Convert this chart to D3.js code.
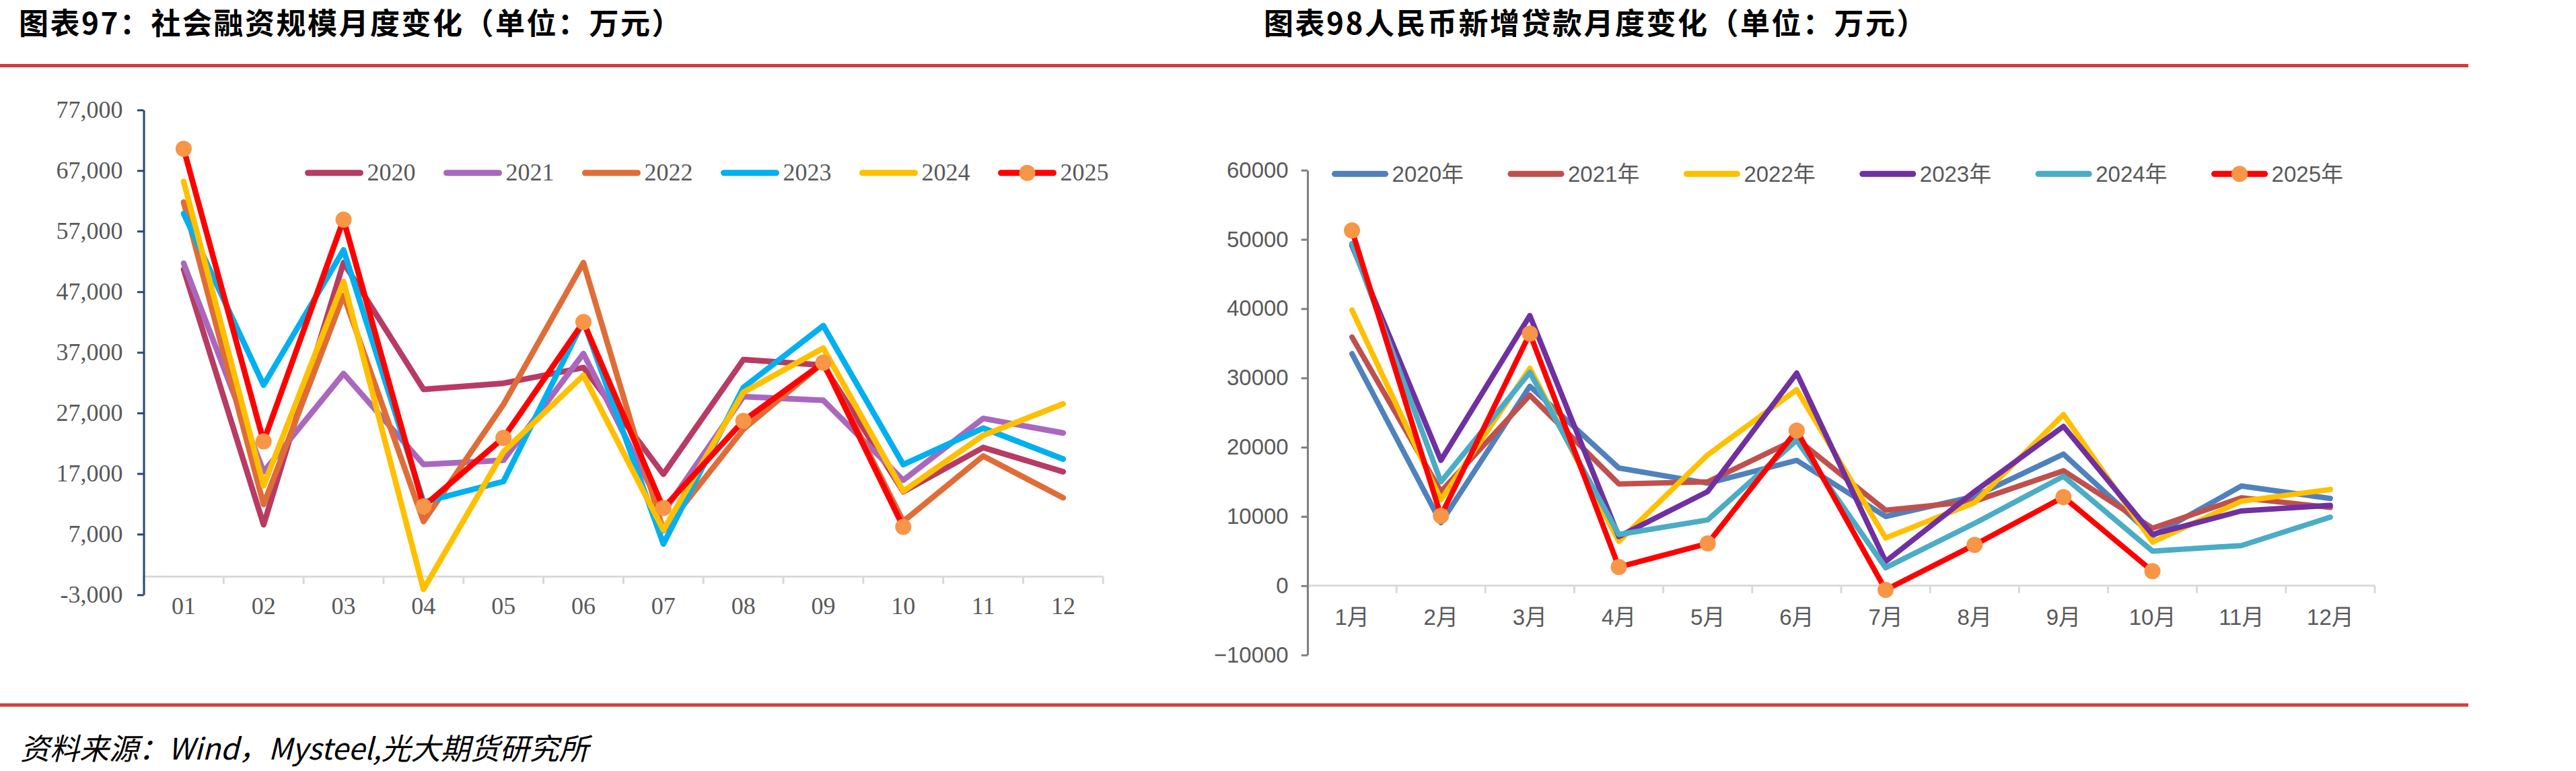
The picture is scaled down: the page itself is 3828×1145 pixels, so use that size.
<!DOCTYPE html>
<html>
<head>
<meta charset="utf-8">
<script src="https://cdn.jsdelivr.net/npm/d3@7"></script>
<style>
  body { margin: 0; background: #fff; }
  svg { display: block; }
</style>
</head>
<body>
<script>
// ---- chart 97: 社会融资规模 ----
var monthsA = ["01", "02", "03", "04", "05", "06", "07", "08", "09", "10", "11", "12"];
var tsfYears = ["2020", "2021", "2022", "2023", "2024", "2025"];
var tsf2020 = [50700, 8550, 51800, 30900, 31900, 34500, 16900, 35800, 34900, 14000, 21300, 17300];
var tsf2021 = [51700, 17300, 33500, 18500, 19200, 36800, 10600, 29700, 29100, 15900, 26100, 23700];
var tsf2022 = [61800, 11900, 46400, 9100, 28400, 51800, 7600, 24300, 35300, 9100, 19900, 13000];
var tsf2023 = [59900, 31600, 53900, 12300, 15700, 42200, 5400, 31200, 41400, 18500, 24500, 19400];
var tsf2024 = [65200, 15000, 48700, -2100, 20600, 33200, 7700, 30400, 37700, 14100, 23300, 28500];
var tsf2025 = [70600, 22300, 58900, 11600, 22900, 42000, 11300, 25700, 35300, 8200];
var tsfTicks = [-3000, 7000, 17000, 27000, 37000, 47000, 57000, 67000, 77000];

// ---- chart 98: 人民币新增贷款 ----
var monthsB = ["1月", "2月", "3月", "4月", "5月", "6月", "7月", "8月", "9月", "10月", "11月", "12月"];
var loanYears = ["2020年", "2021年", "2022年", "2023年", "2024年", "2025年"];
var loan2020 = [33500, 9100, 28800, 17000, 14800, 18100, 10000, 12900, 19000, 7200, 14400, 12600];
var loan2021 = [35900, 13600, 27500, 14700, 15000, 21200, 10900, 12200, 16600, 8300, 12700, 11300];
var loan2022 = [39800, 12400, 31400, 6400, 18900, 28300, 6900, 12000, 24700, 6300, 12200, 13900];
var loan2023 = [49100, 18100, 39000, 7100, 13600, 30700, 3500, 13600, 23000, 7400, 10800, 11600];
var loan2024 = [49400, 15000, 30800, 7400, 9500, 21000, 2600, 9000, 15800, 5000, 5800, 9900];
var loan2025 = [51300, 10100, 36400, 2700, 6100, 22400, -600, 5900, 12800, 2100];
var loanTicks = [-10000, 0, 10000, 20000, 30000, 40000, 50000, 60000];

var tsfColors = ["#B83B63", "#A968BD", "#DF6D37", "#00B0F0", "#FFC000", "#FF0000"];
var loanColors = ["#4F81BD", "#C0504D", "#FFC000", "#7030A0", "#4BACC6", "#FF0000"];
var markerColor = "#F79646";

var W = 3828, H = 1145;
var svg = d3.select("body").append("svg")
  .attr("width", W)
  .attr("height", H);

svg.append("rect").attr("width", W).attr("height", H).attr("fill", "#fff");

// titles
var titleFont = "'Noto Sans CJK SC', sans-serif";
svg.append("text")
  .attr("x", 28).attr("y", 51)
  .style("font-family", titleFont).style("font-size", "44px").style("font-weight", "bold")
  .style("letter-spacing", "2.5px")
  .attr("fill", "#000")
  .text("图表97：社会融资规模月度变化（单位：万元）");

svg.append("text")
  .attr("x", 1878).attr("y", 51)
  .style("font-family", titleFont).style("font-size", "44px").style("font-weight", "bold")
  .style("letter-spacing", "2.5px")
  .attr("fill", "#000")
  .text("图表98人民币新增贷款月度变化（单位：万元）");

// red rules
svg.append("rect").attr("x", 0).attr("y", 95).attr("width", 3668).attr("height", 5).attr("fill", "#D73A3E");
svg.append("rect").attr("x", 0).attr("y", 1044.5).attr("width", 3668).attr("height", 5).attr("fill", "#D73A3E");

// source
svg.append("text")
  .attr("x", 30).attr("y", 1109)
  .attr("dominant-baseline", "central")
  .style("font-family", titleFont).style("font-size", "44px").style("font-style", "italic")
  .attr("fill", "#000")
  .text("资料来源：Wind，Mysteel,光大期货研究所");

function drawChart(cfg) {
  var g = svg.append("g");

  var x = d3.scaleBand().domain(cfg.months).range([cfg.x0, cfg.x1]).padding(0);
  var y = d3.scaleLinear().domain(cfg.domain).range([cfg.yBot, cfg.yTop]);
  var cx = function(m) { return x(m) + x.bandwidth() / 2; };

  // x axis line at zero + boundary ticks
  g.append("line")
    .attr("x1", cfg.x0).attr("x2", cfg.x1)
    .attr("y1", y(0)).attr("y2", y(0))
    .attr("stroke", "#D9D9D9").attr("stroke-width", 3);
  var bounds = cfg.months.map(function(m) { return x(m); }).concat([cfg.x1]);
  g.selectAll(".xb").data(bounds).enter().append("line")
    .attr("x1", function(d) { return d; }).attr("x2", function(d) { return d; })
    .attr("y1", y(0)).attr("y2", y(0) + 11)
    .attr("stroke", "#D9D9D9").attr("stroke-width", 3);

  // x labels
  var xAxis = d3.axisBottom(x).tickSize(0).tickSizeOuter(0);
  var gx = g.append("g").attr("transform", "translate(0," + y(0) + ")").call(xAxis);
  gx.select(".domain").remove();
  gx.selectAll("text")
    .attr("y", cfg.xLabelY).attr("dy", null)
    .attr("fill", "#595959")
    .style("font-family", cfg.font).style("font-size", cfg.fontSize + "px");

  // y axis
  var yAxis = d3.axisLeft(y)
    .tickValues(cfg.ticks)
    .tickFormat(cfg.fmt)
    .tickSize(cfg.tickLen)
    .tickSizeOuter(0)
    .tickPadding(cfg.tickPad);
  var gy = g.append("g").attr("transform", "translate(" + cfg.x0 + ",0)").call(yAxis);
  gy.select(".domain").attr("stroke", cfg.axisColor).attr("stroke-width", 3);
  gy.selectAll(".tick line").attr("stroke", cfg.axisColor).attr("stroke-width", 3);
  gy.selectAll("text")
    .attr("fill", "#595959")
    .style("font-family", cfg.font).style("font-size", cfg.fontSize + "px");

  // lines
  var line = d3.line()
    .x(function(d, i) { return cx(cfg.months[i]); })
    .y(function(d) { return y(d); });

  cfg.series.forEach(function(s, k) {
    g.append("path")
      .datum(s.values)
      .attr("d", line)
      .attr("fill", "none")
      .attr("stroke", s.color)
      .attr("stroke-width", cfg.strokeW)
      .attr("stroke-linejoin", "round")
      .attr("stroke-linecap", "round");
    if (s.marker) {
      g.selectAll(".mk" + k).data(s.values).enter().append("circle")
        .attr("cx", function(d, i) { return cx(cfg.months[i]); })
        .attr("cy", function(d) { return y(d); })
        .attr("r", 12)
        .attr("fill", markerColor);
    }
  });

  // legend
  var lg = g.append("g");
  cfg.series.forEach(function(s, i) {
    var lx = cfg.legX + i * cfg.legStep;
    lg.append("line")
      .attr("x1", lx + 4).attr("x2", lx + cfg.legLen - 4)
      .attr("y1", cfg.legY).attr("y2", cfg.legY)
      .attr("stroke", s.color).attr("stroke-width", 9).attr("stroke-linecap", "round");
    if (s.marker) {
      lg.append("circle")
        .attr("cx", lx + cfg.legLen / 2).attr("cy", cfg.legY).attr("r", 12)
        .attr("fill", markerColor);
    }
    lg.append("text")
      .attr("x", lx + cfg.legText).attr("y", cfg.legY)
      .attr("dy", cfg.legDy)
      .attr("fill", "#595959")
      .style("font-family", cfg.font).style("font-size", cfg.fontSize + "px")
      .text(s.name);
  });
}

var tsfValues = [tsf2020, tsf2021, tsf2022, tsf2023, tsf2024, tsf2025];
drawChart({
  months: monthsA,
  series: tsfYears.map(function(n, i) {
    return { name: n, values: tsfValues[i], color: tsfColors[i], marker: i === 5 };
  }),
  ticks: tsfTicks,
  fmt: function(v) { return d3.format(",")(v).replace("−", "-"); },
  domain: [-3000, 77000],
  x0: 213.5, x1: 1639.3, yTop: 163.3, yBot: 883.3,
  font: "'Liberation Serif', 'Times New Roman', serif", fontSize: 36,
  axisColor: "#2A4674", tickLen: 9.5, tickPad: 21.5,
  xLabelY: 56, strokeW: 8.5,
  legX: 453.5, legStep: 206, legY: 256.7, legLen: 86, legText: 92, legDy: "0.32em"
});

var loanValues = [loan2020, loan2021, loan2022, loan2023, loan2024, loan2025];
drawChart({
  months: monthsB,
  series: loanYears.map(function(n, i) {
    return { name: n, values: loanValues[i], color: loanColors[i], marker: i === 5 };
  }),
  ticks: loanTicks,
  fmt: function(v) { return String(v).replace("-", "−"); },
  domain: [-10000, 60000],
  x0: 1943, x1: 3529, yTop: 252.7, yBot: 972.7,
  font: "'Liberation Sans', Arial, 'Noto Sans CJK SC', sans-serif", fontSize: 33,
  axisColor: "#808080", tickLen: 9.3, tickPad: 19,
  xLabelY: 58.5, strokeW: 8,
  legX: 1979.6, legStep: 261.4, legY: 258.3, legLen: 83, legText: 89, legDy: "0.36em"
});
</script>
</body>
</html>
